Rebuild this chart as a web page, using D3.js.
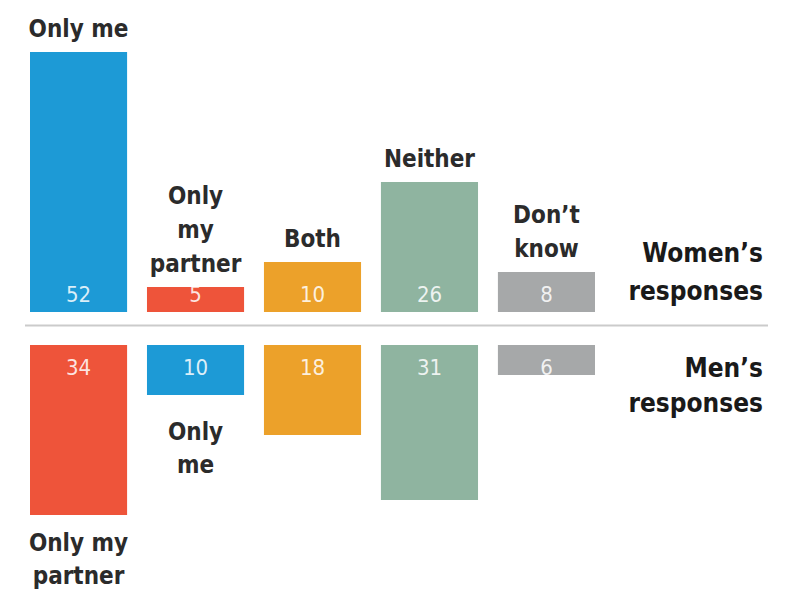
<!DOCTYPE html>
<html>
<head>
<meta charset="utf-8">
<script src="https://cdn.jsdelivr.net/npm/d3@7"></script>
<style>
  html, body { margin: 0; padding: 0; background: #fff; }
  svg text { font-family: "DejaVu Sans Condensed", "DejaVu Sans", sans-serif; }
</style>
</head>
<body>
<div id="chart"></div>
<script>
// answers and their colours
const answers = ["Only me", "Only my partner", "Both", "Neither", "Don’t know"];
const answerColors = ["#1d9ad6", "#ee543a", "#eca12a", "#8fb4a0", "#a6a8a9"];

// women: columns in answer order
const womenAnswer = [0, 1, 2, 3, 4];
const womenValues = [52, 5, 10, 26, 8];
const womenLabels = [["Only me"], ["Only", "my", "partner"], ["Both"], ["Neither"], ["Don’t", "know"]];

// men: first two columns swapped
const menAnswer = [1, 0, 2, 3, 4];
const menValues = [34, 10, 18, 31, 6];
const menLabels = [["Only my", "partner"], ["Only", "me"], [], [], []];

const groupLabels = [["Women’s", "responses"], ["Men’s", "responses"]];

const width = 790, height = 589;
const topBase = 312, botBase = 345, sepY = 325.5;
const lineH = 34;

const svg = d3.select("#chart").append("svg")
  .attr("width", width).attr("height", height);

const x = d3.scaleBand()
  .domain(d3.range(womenValues.length))
  .range([30, 595])
  .paddingInner(0.17)
  .paddingOuter(0);

// 5px per percentage point
const h = d3.scaleLinear().domain([0, 10]).range([0, 50]);

// separator
svg.append("line")
  .attr("x1", 25).attr("x2", 768)
  .attr("y1", sepY).attr("y2", sepY)
  .attr("stroke", "#cbcbcb").attr("stroke-width", 2);

// women's bars (up)
const wg = svg.append("g");
wg.selectAll("rect").data(womenValues).enter().append("rect")
  .attr("x", (d, i) => x(i))
  .attr("y", d => topBase - h(d))
  .attr("width", x.bandwidth())
  .attr("height", d => h(d))
  .attr("fill", (d, i) => answerColors[womenAnswer[i]]);

wg.selectAll("text.val").data(womenValues).enter().append("text")
  .attr("class", "val")
  .attr("x", (d, i) => x(i) + x.bandwidth() / 2)
  .attr("y", topBase - 10)
  .attr("text-anchor", "middle")
  .attr("font-size", 22)
  .attr("fill", "#fff").attr("fill-opacity", 0.85)
  .text(d => d);

womenLabels.forEach((lines, i) => {
  const t = wg.append("text")
    .attr("text-anchor", "middle")
    .attr("font-size", 24).attr("font-weight", "bold")
    .attr("fill", "#2b2b2b");
  lines.forEach((s, j) => {
    t.append("tspan")
      .attr("x", x(i) + x.bandwidth() / 2)
      .attr("y", topBase - h(womenValues[i]) - 15 - (lines.length - 1 - j) * lineH)
      .text(s);
  });
});

// men's bars (down)
const mg = svg.append("g");
mg.selectAll("rect").data(menValues).enter().append("rect")
  .attr("x", (d, i) => x(i))
  .attr("y", botBase)
  .attr("width", x.bandwidth())
  .attr("height", d => h(d))
  .attr("fill", (d, i) => answerColors[menAnswer[i]]);

mg.selectAll("text.val").data(menValues).enter().append("text")
  .attr("class", "val")
  .attr("x", (d, i) => x(i) + x.bandwidth() / 2)
  .attr("y", botBase + 30)
  .attr("text-anchor", "middle")
  .attr("font-size", 22)
  .attr("fill", "#fff").attr("fill-opacity", 0.85)
  .text(d => d);

menLabels.forEach((lines, i) => {
  // the tall first bar keeps its label tight to the page bottom
  const gap = i === 0 ? 36 : 45;
  const t = mg.append("text")
    .attr("text-anchor", "middle")
    .attr("font-size", 24).attr("font-weight", "bold")
    .attr("fill", "#2b2b2b");
  lines.forEach((s, j) => {
    t.append("tspan")
      .attr("x", x(i) + x.bandwidth() / 2)
      .attr("y", botBase + h(menValues[i]) + gap + j * 33)
      .text(s);
  });
});

// group labels on the right
const gy = [[262, 300], [377, 412]];
groupLabels.forEach((lines, k) => {
  const t = svg.append("text")
    .attr("text-anchor", "end")
    .attr("font-size", 26).attr("font-weight", "bold")
    .attr("fill", "#1a1a1a");
  lines.forEach((s, j) => {
    t.append("tspan").attr("x", 763).attr("y", gy[k][j]).text(s);
  });
});
</script>
</body>
</html>
